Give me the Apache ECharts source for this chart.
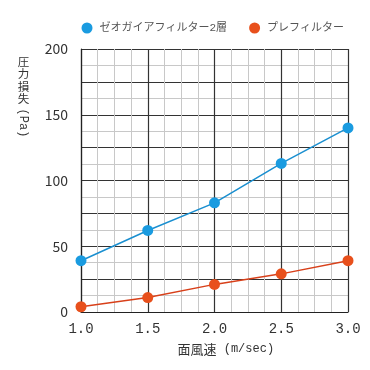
<!DOCTYPE html>
<html>
<head>
<meta charset="utf-8">
<script src="https://cdn.jsdelivr.net/npm/echarts@6/dist/echarts.min.js"></script>
<style>
html,body{margin:0;padding:0;background:#fff;}
#chart{width:370px;height:370px;}
</style>
</head>
<body>
<div id="chart"></div>
<script>
var speeds = [1.0, 1.5, 2.0, 2.5, 3.0];
var seriesNames = ['ゼオガイアフィルター2層', 'プレフィルター'];
var zeoGaia = [39, 62, 83, 113, 140];
var preFilter = [4, 11, 21, 29, 39];
var xTitleMain = '面風速';
var xTitleUnit = '(m/sec)';
var yTitleMain = '圧力損失';
var yTitleUnit = '(Pa)';

function pairs(xs, ys) { return xs.map(function (x, i) { return [x, ys[i]]; }); }

var MONO_CJK = "'Liberation Mono', 'Noto Sans CJK JP', sans-serif";
var CJK = "'Noto Sans CJK JP', sans-serif";
var MONO = "'Liberation Mono', monospace";
var chart = echarts.init(document.getElementById('chart'), null, {renderer: 'canvas'});
chart.setOption({
  animation: false,
  backgroundColor: '#fff',
  grid: {left: 81, right: 22, top: 49, bottom: 58},
  legend: {
    left: 81.5, top: 22.5, padding: 0,
    icon: 'circle', itemWidth: 11, itemHeight: 11, itemGap: 22,
    textStyle: {fontFamily: MONO_CJK, fontSize: 11, color: '#555', padding: [0, 0, 0, 2]},
    data: seriesNames
  },
  xAxis: {
    type: 'value', min: 1, max: 3, interval: 0.5,
    axisLine: {show: true, lineStyle: {color: '#222', width: 1.2}},
    axisTick: {show: false},
    axisLabel: {margin: 10, fontFamily: MONO, fontSize: 14, color: '#333',
      formatter: function (v) { return v.toFixed(1); }},
    splitLine: {show: true, lineStyle: {color: '#333', width: 1.2}},
    minorTick: {show: false, splitNumber: 4},
    minorSplitLine: {show: true, lineStyle: {color: '#c8c8c8', width: 1}}
  },
  yAxis: {
    type: 'value', min: 0, max: 200, interval: 25,
    axisLine: {show: true, lineStyle: {color: '#222', width: 1.2}},
    axisTick: {show: false},
    axisLabel: {margin: 13, fontFamily: CJK, fontSize: 14, color: '#333',
      formatter: function (v) { return v % 50 === 0 ? String(v) : ''; }},
    splitLine: {show: true, lineStyle: {color: '#333', width: 1.2}},
    minorTick: {show: false, splitNumber: 2},
    minorSplitLine: {show: true, lineStyle: {color: '#c8c8c8', width: 1}}
  },
  graphic: [
    {type: 'text', x: 23.5, y: 55.5, z: 10,
      style: {text: yTitleMain.split('').join('\n'), fontFamily: CJK, fontSize: 11.5, lineHeight: 12.3,
        fill: '#333', align: 'center', verticalAlign: 'top'}},
    {type: 'text', x: 23.5, y: 123, rotation: -Math.PI / 2, z: 10,
      style: {text: yTitleUnit, fontFamily: MONO, fontSize: 12, fill: '#333',
        align: 'center', verticalAlign: 'middle'}},
    {type: 'text', x: 177.5, y: 349, z: 10,
      style: {text: '{a|' + xTitleMain + '}{b| ' + xTitleUnit + '}', align: 'left', verticalAlign: 'middle',
        rich: {
          a: {fontFamily: CJK, fontSize: 13, fill: '#333', color: '#333'},
          b: {fontFamily: MONO, fontSize: 12, fill: '#333', color: '#333'}
        }}}
  ],
  series: [
    {name: seriesNames[0], type: 'line', data: pairs(speeds, zeoGaia),
      symbol: 'circle', symbolSize: 11, z: 5,
      itemStyle: {color: '#1a9be0'}, lineStyle: {color: '#1a8fd0', width: 1.5}},
    {name: seriesNames[1], type: 'line', data: pairs(speeds, preFilter),
      symbol: 'circle', symbolSize: 11, z: 5,
      itemStyle: {color: '#e8501c'}, lineStyle: {color: '#d8401a', width: 1.5}}
  ]
});
</script>
</body>
</html>
